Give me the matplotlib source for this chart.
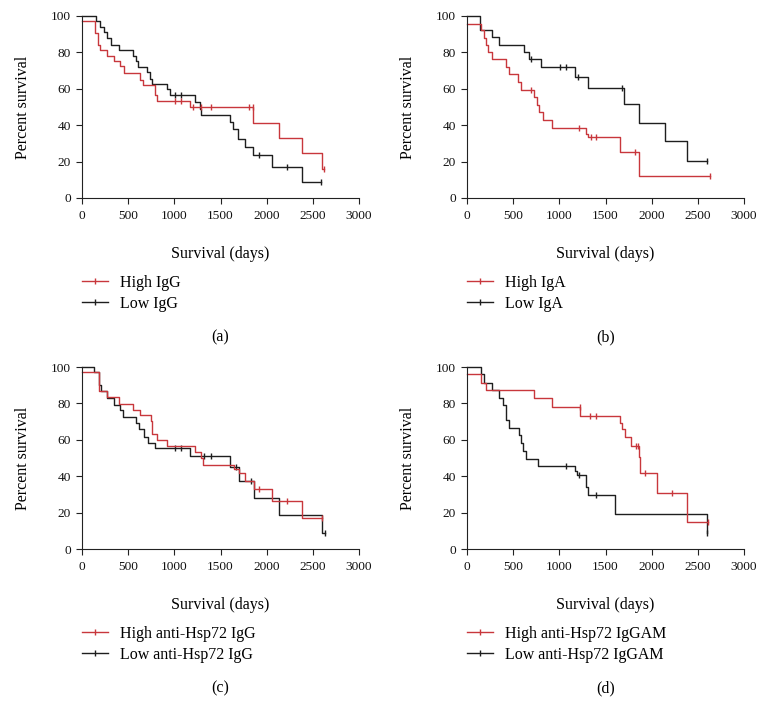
#Kaplan-Meier style survival curves for four antibody groupings.
import numpy as np
import matplotlib.pyplot as plt

plt.rcParams['font.family'] = ['Liberation Serif', 'DejaVu Serif']

RED = '#c8373c'
BLACK = '#1e1e1e'

# (a) IgG
a_high_start = 97.3
a_high_t = [145, 173, 192, 271, 347, 408, 452, 632, 661, 788, 817, 1167, 1854, 2132, 2382, 2602]
a_high_s = [90.8, 84.2, 81.5, 77.8, 75.1, 72.3, 68.5, 65.0, 62.3, 56.8, 53.1, 49.8, 41.2, 33.0, 24.5, 16.1]
a_high_c = [1005, 1070, 1203, 1294, 1395, 1811, 1847, 2624]
a_low_start = 100
a_low_t = [155, 192, 239, 271, 318, 398, 553, 582, 607, 708, 734, 763, 925, 951, 1222, 1276, 1294,
           1601, 1637, 1691, 1764, 1854, 2053, 2382]
a_low_s = [97.3, 94.0, 91.2, 88.1, 84.2, 81.5, 77.8, 75.1, 72.0, 69.2, 65.6, 62.5, 59.7, 56.4, 52.7, 49.1, 45.8,
           41.8, 37.7, 32.6, 28.0, 23.4, 17.0, 8.8]
a_low_c = [1005, 1070, 1919, 2215, 2588]

# (b) IgA
b_high_start = 95.4
b_high_t = [155, 181, 202, 228, 275, 419, 455, 553, 589, 723, 759, 777, 824, 925, 1294, 1312, 1662, 1861]
b_high_s = [92.1, 87.9, 83.9, 80.2, 76.2, 72.0, 67.9, 63.7, 59.5, 55.5, 51.3, 47.3, 42.7, 38.5, 35.3, 33.5, 25.3, 12.1]
b_high_c = [690, 1211, 1348, 1395, 1818, 2631]
b_low_start = 100
b_low_t = [145, 275, 347, 618, 672, 799, 1167, 1312, 1702, 1861, 2143, 2385]
b_low_s = [92.5, 88.5, 84.2, 80.2, 76.2, 72.0, 66.5, 60.4, 51.8, 41.4, 31.1, 20.3]
b_low_c = [697, 1005, 1070, 1203, 1680, 2595]

# (c) anti-Hsp72 IgG
c_high_start = 97.2
c_high_t = [181, 275, 398, 553, 632, 745, 763, 817, 925, 1222, 1287, 1312, 1648, 1702, 1764, 1861, 2053, 2382]
c_high_s = [86.6, 83.3, 79.8, 76.5, 73.8, 70.1, 63.3, 60.0, 56.7, 53.2, 49.9, 46.2, 43.9, 41.7, 37.4, 33.0, 26.4, 17.2]
c_high_c = [1919, 2215, 2602]
c_low_start = 100
c_low_t = [130, 181, 210, 275, 347, 408, 444, 589, 618, 672, 716, 795, 1167, 1601, 1702, 1861, 2136, 2602]
c_low_s = [97.2, 89.9, 86.6, 82.9, 79.3, 76.1, 72.5, 69.2, 65.9, 61.8, 58.5, 55.4, 51.2, 45.3, 37.4, 27.9, 18.7, 9.0]
c_low_c = [1005, 1070, 1323, 1395, 1666, 1829, 2631]

# (d) anti-Hsp72 IgGAM
d_high_start = 96.3
d_high_t = [155, 202, 723, 925, 1229, 1662, 1680, 1709, 1771, 1861, 1872, 2060, 2385]
d_high_s = [91.2, 87.2, 82.9, 78.0, 73.2, 69.2, 65.9, 61.8, 56.7, 50.8, 41.7, 31.0, 15.0]
d_high_c = [1221, 1330, 1395, 1825, 1847, 1933, 2222, 2613]
d_low_start = 100
d_low_t = [155, 181, 275, 347, 390, 419, 426, 455, 564, 589, 607, 643, 770, 1167, 1193, 1294, 1312, 1608, 2602]
d_low_s = [96.1, 91.4, 87.2, 82.9, 78.9, 75.0, 71.0, 66.4, 62.4, 58.2, 53.9, 49.5, 45.7, 42.9, 40.7, 34.3, 29.4, 19.3, 9.0]
d_low_c = [1070, 1214, 1395, 2602]

x_ticks = [0, 500, 1000, 1500, 2000, 2500, 3000]
y_ticks = [0, 20, 40, 60, 80, 100]

panels = [
    ('(a)', 'High IgG', 'Low IgG',
     (a_high_start, a_high_t, a_high_s, a_high_c), (a_low_start, a_low_t, a_low_s, a_low_c)),
    ('(b)', 'High IgA', 'Low IgA',
     (b_high_start, b_high_t, b_high_s, b_high_c), (b_low_start, b_low_t, b_low_s, b_low_c)),
    ('(c)', 'High anti-Hsp72 IgG', 'Low anti-Hsp72 IgG',
     (c_high_start, c_high_t, c_high_s, c_high_c), (c_low_start, c_low_t, c_low_s, c_low_c)),
    ('(d)', 'High anti-Hsp72 IgGAM', 'Low anti-Hsp72 IgGAM',
     (d_high_start, d_high_t, d_high_s, d_high_c), (d_low_start, d_low_t, d_low_s, d_low_c)),
]

W, H = 770, 723
fig = plt.figure(figsize=(W / 100, H / 100), dpi=100)

# axes boxes in pixels: left, bottom(y from top), width, height
boxes = [(82, 198), (467, 198), (82, 549), (467, 549)]
ax_w, ax_h = 277, 182


def km_curve(ax, start, times, surv, cens, color):
    times = np.array(times, dtype=float)
    surv = np.array(surv, dtype=float)
    end = max(times.max(), max(cens))
    x = np.concatenate([[0], times, [end]])
    y = np.concatenate([[start], surv, [surv[-1]]])
    ax.step(x, y, where='post', color=color, lw=1.0, clip_on=False)
    idx = np.searchsorted(times, cens, side='right') - 1
    cy = np.where(idx >= 0, surv[np.clip(idx, 0, None)], start)
    ax.plot(cens, cy, ls='none', marker='|', ms=5, mew=1.0, color=color, clip_on=False)


for (label, hi_name, lo_name, hi, lo), (px, py) in zip(panels, boxes):
    ax = fig.add_axes([px / W, 1 - py / H, ax_w / W, ax_h / H])
    km_curve(ax, *lo, BLACK)
    km_curve(ax, *hi, RED)
    ax.set_xlim(0, 3000)
    ax.set_ylim(0, 100)
    ax.set_xticks(x_ticks)
    ax.set_yticks(y_ticks)
    ax.tick_params(direction='out', length=4, width=0.8, labelsize=9.6, colors='#222222',
                   labelcolor='#111111')
    ax.tick_params(axis='x', pad=4.5)
    ax.tick_params(axis='y', pad=4)
    for s in ['top', 'right']:
        ax.spines[s].set_visible(False)
    for s in ['left', 'bottom']:
        ax.spines[s].set_linewidth(0.8)
        ax.spines[s].set_color('#222222')
    ax.set_ylabel('Percent survival', fontsize=11.5, labelpad=14)
    cx = (px + ax_w / 2) / W
    fig.text(cx, 1 - (py + 56) / H, 'Survival (days)', ha='center', va='center', fontsize=11.5)
    fig.text(cx, 1 - (py + 139) / H, label, ha='center', va='center', fontsize=11.5)
    h1 = plt.Line2D([], [], color=RED, lw=1.0, marker='|', ms=5)
    h2 = plt.Line2D([], [], color=BLACK, lw=1.0, marker='|', ms=5)
    fig.legend([h1, h2], [hi_name, lo_name], loc='upper left',
               bbox_to_anchor=(px / W, 1 - (py + 77) / H), frameon=False,
               fontsize=11.5, handlelength=1.65, handletextpad=0.7,
               labelspacing=0.3, borderpad=0, borderaxespad=0)

plt.savefig('out.png', dpi=100)
